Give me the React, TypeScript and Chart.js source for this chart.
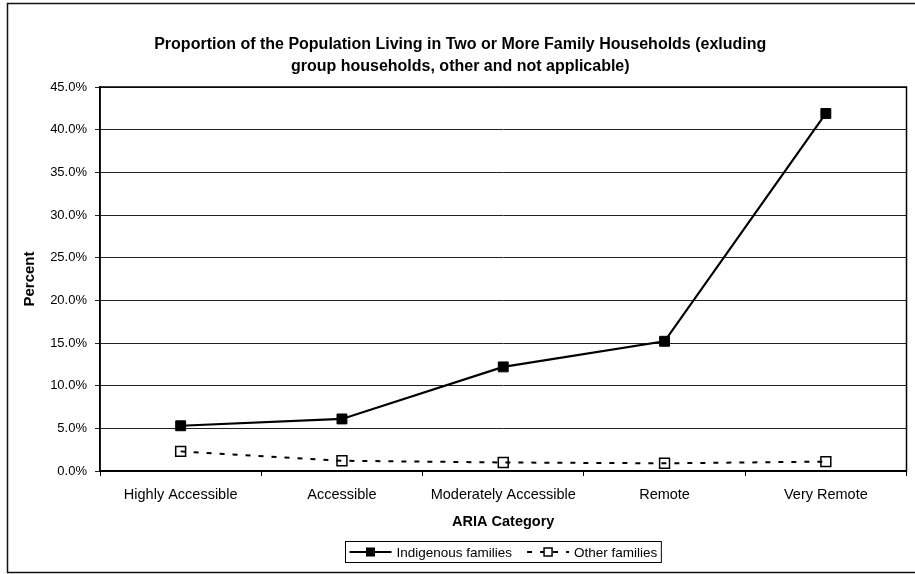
import React, { useEffect, useRef } from "react";
import { Chart, registerables } from "chart.js";

Chart.register(...registerables);

const titleLines = [
  "Proportion of the Population Living in Two or More Family Households (exluding",
  "group households, other and not applicable)",
];
const categories = [
  "Highly Accessible",
  "Accessible",
  "Moderately Accessible",
  "Remote",
  "Very Remote",
];
const indigenousFamilies = [5.3, 6.1, 12.2, 15.2, 41.9];
const otherFamilies = [2.3, 1.2, 1.0, 0.9, 1.1];
const seriesNames = ["Indigenous families", "Other families"];
const yAxisTitle = "Percent";
const xAxisTitle = "ARIA Category";

const FONT = "'Liberation Sans', Arial, sans-serif";

const framePlugin = {
  id: "frame",
  afterDraw(chart: any) {
    const { ctx, chartArea } = chart;
    ctx.save();
    ctx.strokeStyle = "#000";
    ctx.lineWidth = 1.5;
    ctx.strokeRect(chartArea.left, chartArea.top, chartArea.right - chartArea.left, chartArea.bottom - chartArea.top);
    ctx.lineWidth = 1.5;
    ctx.strokeStyle = "#111";
    ctx.beginPath();
    ctx.moveTo(chart.width, 3.5);
    ctx.lineTo(7.5, 3.5);
    ctx.lineTo(7.5, chart.height - 1.5);
    ctx.lineTo(chart.width, chart.height - 1.5);
    ctx.stroke();
    ctx.restore();
  },
};

const legendPlugin = {
  id: "customLegend",
  afterDraw(chart: any) {
    const { ctx, chartArea } = chart;
    const ds = chart.data.datasets;
    ctx.save();
    ctx.font = `13.5px ${FONT}`;
    const sampleW = 42;
    const textGap = 5;
    const itemGap = 15;
    const padX = 4;
    let total = padX * 2;
    ds.forEach((d: any, i: number) => {
      total += sampleW + textGap + ctx.measureText(d.label).width;
      if (i < ds.length - 1) total += itemGap;
    });
    const cx = (chartArea.left + chartArea.right) / 2;
    const left = Math.round(cx - total / 2) + 0.5;
    const top = 541.5;
    const h = 21;
    const cy = top + h / 2;
    ctx.strokeStyle = "#000";
    ctx.lineWidth = 1;
    ctx.strokeRect(left, top, total, h);
    let x = left + padX;
    ds.forEach((d: any) => {
      ctx.beginPath();
      ctx.strokeStyle = d.borderColor;
      ctx.lineWidth = d.borderWidth;
      ctx.setLineDash(d.borderDash || []);
      ctx.moveTo(x, cy);
      ctx.lineTo(x + sampleW, cy);
      ctx.stroke();
      ctx.setLineDash([]);
      const s = 8;
      const mx = x + sampleW / 2;
      ctx.fillStyle = d.pointBackgroundColor && d.pointBackgroundColor !== "transparent" ? d.pointBackgroundColor : "#fff";
      ctx.fillRect(mx - s / 2, cy - s / 2, s, s);
      ctx.lineWidth = d.pointBorderWidth;
      ctx.strokeStyle = d.pointBorderColor;
      ctx.strokeRect(mx - s / 2, cy - s / 2, s, s);
      x += sampleW + textGap;
      ctx.fillStyle = "#000";
      ctx.textBaseline = "middle";
      ctx.textAlign = "left";
      ctx.fillText(d.label, x, cy + 1);
      x += ctx.measureText(d.label).width + itemGap;
    });
    ctx.restore();
  },
};

export default function App() {
  const ref = useRef<HTMLCanvasElement>(null);
  useEffect(() => {
    const canvas = ref.current!;
    const chart = new Chart(canvas, {
      type: "line",
      data: {
        labels: categories,
        datasets: [
          {
            label: seriesNames[0],
            data: indigenousFamilies,
            borderColor: "#000",
            borderWidth: 2.2,
            pointStyle: "rect",
            pointRadius: 7,
            pointBackgroundColor: "#000",
            pointBorderColor: "#000",
            pointBorderWidth: 1,
            tension: 0,
          },
          {
            label: seriesNames[1],
            data: otherFamilies,
            borderColor: "#000",
            borderWidth: 2,
            borderDash: [5, 8],
            pointStyle: "rect",
            pointRadius: 7,
            pointBackgroundColor: "transparent",
            pointBorderColor: "#000",
            pointBorderWidth: 1.5,
            tension: 0,
          },
        ],
      },
      options: {
        responsive: false,
        animation: false,
        devicePixelRatio: 1,
        layout: { padding: { left: 7, right: 1.5, top: 0, bottom: 40 } },
        plugins: {
          legend: { display: false },
          tooltip: { enabled: false },
          title: {
            display: true,
            text: titleLines,
            color: "#000",
            font: { family: FONT, size: 16, weight: "bold", lineHeight: 1.375 },
            padding: { top: 34, bottom: 9 },
          },
        },
        scales: {
          x: {
            offset: true,
            grid: { display: true, drawOnChartArea: false, drawTicks: true, tickLength: 5, color: "#000", offset: true },
            border: { display: true, color: "#000", width: 1.5 },
            ticks: { color: "#000", font: { family: FONT, size: 14.5 }, padding: 10, maxRotation: 0, autoSkip: false },
            title: { display: true, text: xAxisTitle, color: "#000", font: { family: FONT, size: 14.5, weight: "bold" }, padding: { top: 0, bottom: 3 } },
            afterFit: (s: any) => {
              s.height = 63;
              s.paddingLeft = 0;
              s.paddingRight = 0;
            },
          },
          y: {
            min: 0,
            max: 45,
            grid: { color: "#222", lineWidth: 1, drawTicks: true, tickLength: 5 },
            border: { display: true, color: "#000", width: 1.5 },
            ticks: {
              stepSize: 5,
              color: "#000",
              font: { family: FONT, size: 13 },
              padding: 8,
              callback: (v: any) => Number(v).toFixed(1) + "%",
            },
            title: { display: true, text: yAxisTitle, color: "#000", font: { family: FONT, size: 15, weight: "bold" }, padding: { top: 14, bottom: 0 } },
            afterFit: (s: any) => {
              s.width = 93;
            },
          },
        },
      },
      plugins: [framePlugin, legendPlugin],
    });
    return () => chart.destroy();
  }, []);
  return (
    <div style={{ position: "fixed", left: 0, top: 0, width: 915, height: 574, background: "#fff" }}>
      <canvas ref={ref} width={915} height={574} style={{ display: "block" }} />
    </div>
  );
}
